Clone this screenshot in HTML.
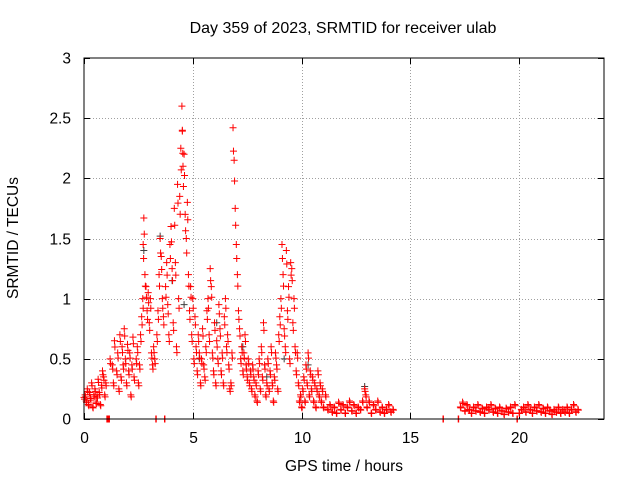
<!DOCTYPE html>
<html>
<head>
<meta charset="utf-8">
<style>
html,body{margin:0;padding:0;background:#fff;}
svg{display:block;font-family:"Liberation Sans",sans-serif;}
</style>
</head>
<body>
<svg id="chart" width="640" height="480" viewBox="0 0 640 480">
<rect x="0" y="0" width="640" height="480" fill="#fff"/>
<text x="343" y="33" text-anchor="middle" font-size="16" fill="#000">Day 359 of 2023, SRMTID for receiver ulab</text>
<text x="344" y="471" text-anchor="middle" font-size="15.5" fill="#000">GPS time / hours</text>
<text x="0" y="0" transform="translate(18,238) rotate(-90)" text-anchor="middle" font-size="15.5" fill="#000">SRMTID / TECUs</text>
<g id="grid"></g>
<g id="ticks"></g>
<g id="marks"></g>
<rect x="84" y="58" width="520" height="361" fill="none" stroke="#000" stroke-width="1"/>
</svg>
<script>
const xTicks = [0, 5, 10, 15, 20];
const xTickLabels = ["0", "5", "10", "15", "20"];
const yTicks = [0, 0.5, 1, 1.5, 2, 2.5, 3];
const yTickLabels = ["0", "0.5", "1", "1.5", "2", "2.5", "3"];
const redTimes = [0.0,0.05,0.1,0.15,0.2,0.25,0.3,0.35,0.4,0.45,0.5,0.55,0.6,0.65,0.7,0.75,0.8,0.85,0.9,0.95,1.0,1.05,1.1,1.15,1.2,1.3,1.35,1.4,1.5,1.55,1.6,1.65,1.7,1.75,1.8,1.85,1.9,1.95,2.0,2.05,2.1,2.15,2.2,2.25,2.3,2.4,2.45,2.5,2.55,2.6,2.65,2.7,2.72,2.75,2.8,2.85,2.9,2.95,3.0,3.05,3.1,3.15,3.2,3.25,3.3,3.35,3.4,3.45,3.5,3.55,3.6,3.65,3.7,3.75,3.8,3.85,3.9,3.95,4.0,4.05,4.1,4.15,4.2,4.25,4.3,4.35,4.4,4.45,4.5,4.52,4.55,4.6,4.65,4.7,4.75,4.8,4.85,4.9,4.95,5.0,5.05,5.1,5.15,5.2,5.25,5.3,5.35,5.4,5.45,5.5,5.55,5.6,5.65,5.7,5.75,5.8,5.85,5.9,5.95,6.0,6.05,6.1,6.15,6.2,6.25,6.3,6.35,6.4,6.45,6.5,6.55,6.6,6.65,6.7,6.75,6.8,6.85,6.9,6.95,7.0,7.05,7.1,7.15,7.2,7.25,7.3,7.35,7.4,7.45,7.5,7.55,7.6,7.65,7.7,7.75,7.8,7.85,7.9,7.95,8.0,8.05,8.1,8.15,8.2,8.25,8.3,8.35,8.4,8.45,8.5,8.55,8.6,8.65,8.7,8.75,8.8,8.85,8.9,8.95,9.0,9.05,9.1,9.15,9.2,9.25,9.3,9.35,9.4,9.45,9.5,9.55,9.6,9.65,9.7,9.75,9.8,9.85,9.9,9.95,10.0,10.05,10.1,10.15,10.2,10.25,10.3,10.35,10.4,10.45,10.5,10.55,10.6,10.65,10.7,10.75,10.8,10.85,10.9,10.95,11.0,11.1,11.2,11.3,11.4,11.5,11.6,11.7,11.8,11.9,12.0,12.1,12.2,12.3,12.4,12.5,12.6,12.7,12.8,12.9,12.95,13.0,13.1,13.2,13.3,13.4,13.5,13.6,13.7,13.8,13.9,14.0,14.1,14.2,16.5,17.2,17.3,17.4,17.5,17.6,17.7,17.8,17.9,18.0,18.1,18.2,18.3,18.4,18.5,18.6,18.7,18.8,18.9,19.0,19.1,19.2,19.3,19.4,19.5,19.6,19.7,19.8,19.9,20.0,20.1,20.2,20.3,20.4,20.5,20.6,20.7,20.8,20.9,21.0,21.1,21.2,21.3,21.4,21.5,21.6,21.7,21.8,21.9,22.0,22.1,22.2,22.3,22.4,22.5,22.6,22.7];
const redValues = [0.18,0.2,0.15,0.25,0.12,0.22,0.17,0.3,0.1,0.2,0.25,0.14,0.19,0.33,0.22,0.12,0.28,0.4,0.35,0.2,0.3,0,0,0,0.5,0.45,0.3,0.65,0.4,0.55,0.25,0.7,0.35,0.6,0.45,0.75,0.5,0.3,0.62,0.4,0.55,0.2,0.45,0.68,0.35,0.5,0.6,0.3,0.45,0.7,0.85,1.0,1.45,1.67,1.2,1.1,0.9,1.05,0.8,1.0,0.55,0.45,0.6,0.5,0,0.7,0.9,1.2,1.5,1.35,1.0,0.85,0,1.1,1.3,0.95,0.7,1.45,1.6,1.25,0.8,1.75,1.3,0.6,1.95,1.0,1.85,2.25,2.6,2.4,2.1,2.2,1.7,1.5,1.8,1.2,0.9,1.1,0.7,1.0,0.5,0.85,0.6,0.4,0.7,0.55,0.3,0.5,0.75,0.45,0.35,0.6,0.9,1.0,0.7,1.25,1.1,0.55,0.4,0.8,0.3,0.65,0.5,0.95,0.75,0.4,0.55,0.3,0.85,1.0,0.6,0.7,0.45,0.25,0.3,0.55,2.42,2.15,1.75,1.45,1.2,0.9,0.75,0.5,0.6,0.4,0.55,0.7,0.45,0.35,0.5,0.3,0.4,0.25,0.45,0.35,0.2,0.3,0.15,0.4,0.5,0.25,0.6,0.35,0.8,0.45,0.2,0.3,0.5,0.25,0.4,0.6,0.3,0.15,0.35,0.55,0.45,0.25,0.7,0.85,1.0,1.45,1.2,0.75,0.6,1.4,0.9,1.1,0.5,1.3,1.25,0.8,1.0,0.6,0.4,0.55,0.3,0.15,0.2,0.1,0.25,0.35,0.15,0.45,0.3,0.55,0.2,0.4,0.25,0.35,0.15,0.3,0.1,0.25,0.4,0.2,0.3,0.15,0.25,0.1,0.2,0.08,0.12,0.06,0.1,0.05,0.14,0.08,0.12,0.05,0.1,0.15,0.07,0.12,0.05,0.1,0.08,0.15,0.25,0.2,0.1,0.15,0.05,0.12,0.08,0.15,0.06,0.1,0.05,0.08,0.12,0.06,0.08,0,0,0.1,0.14,0.07,0.12,0.08,0.05,0.1,0.07,0.12,0.06,0.09,0.05,0.1,0.08,0.12,0.06,0.09,0.05,0.1,0.07,0.04,0.09,0.06,0.1,0.05,0.12,0,0.05,0.08,0.1,0.06,0.12,0.08,0.05,0.1,0.07,0.12,0.06,0.09,0.05,0.1,0.07,0.04,0.08,0.06,0.1,0.05,0.08,0.06,0.1,0.05,0.08,0.12,0.06,0.08];
const greyTimes = [2.75,3.5,4.05,4.6,5.3,6.1,7.3,8.4,9.2,10.3,12.9];
const greyValues = [1.4,1.52,1.15,0.95,0.5,0.8,0.6,0.35,0.5,0.45,0.27];

const X0 = 84, X1 = 604, Y0 = 419, Y1 = 58;
const xMax = 23.9, yMax = 3;
function xs(t){ return X0 + t / xMax * (X1 - X0); }
function ys(v){ return Y0 - v / yMax * (Y0 - Y1); }
const NS = "http://www.w3.org/2000/svg";
const grid = document.getElementById('grid');
const ticks = document.getElementById('ticks');
const marks = document.getElementById('marks');

function line(parent, x1, y1, x2, y2, stroke, dash){
  const l = document.createElementNS(NS, 'line');
  l.setAttribute('x1', x1); l.setAttribute('y1', y1);
  l.setAttribute('x2', x2); l.setAttribute('y2', y2);
  l.setAttribute('stroke', stroke); l.setAttribute('stroke-width', 1);
  if (dash) l.setAttribute('stroke-dasharray', dash);
  parent.appendChild(l);
  return l;
}

xTicks.forEach((t, i) => {
  const x = Math.round(xs(t)) + 0.5;
  if (t > 0) {
    const g = line(grid, x, Y1, x, Y0, '#a0a0a0', '1,2');
    
    
  }
  line(ticks, x, Y0, x, Y0 - 6, '#000');
  line(ticks, x, Y1, x, Y1 + 6, '#000');
  const tx = document.createElementNS(NS, 'text');
  tx.setAttribute('x', x); tx.setAttribute('y', 443);
  tx.setAttribute('text-anchor', 'middle'); tx.setAttribute('font-size', 15.5);
  tx.textContent = xTickLabels[i];
  
  
  ticks.appendChild(tx);
});
yTicks.forEach((v, i) => {
  const y = Math.round(ys(v)) + 0.5;
  if (v > 0 && v < yMax) {
    const g = line(grid, X0, y, X1, y, '#a0a0a0', '1,2');
    
    
  }
  line(ticks, X0, y, X0 + 6, y, '#000');
  line(ticks, X1, y, X1 - 6, y, '#000');
  const tx = document.createElementNS(NS, 'text');
  tx.setAttribute('x', 71); tx.setAttribute('y', y + 5);
  tx.setAttribute('text-anchor', 'end'); tx.setAttribute('font-size', 15.5);
  tx.textContent = yTickLabels[i];
  
  
  ticks.appendChild(tx);
});

function plus(t, v, color, name){
  const x = xs(t), y = ys(v);
  const p = document.createElementNS(NS, 'path');
  p.setAttribute('d', `M${x-3.5},${y}H${x+3.5}M${x},${y-3.5}V${y+3.5}`);
  p.setAttribute('stroke', color);
  p.setAttribute('stroke-width', 1);
  p.setAttribute('fill', 'none');
  
  
  marks.appendChild(p);
}
greyTimes.forEach((t, i) => plus(t, greyValues[i], '#404040', 'grey-point'));
redTimes.forEach((t, i) => {
  plus(t, redValues[i], '#ff0000', 'red-point');
  plus(t + 0.02, redValues[i] * 0.92, '#ff0000', 'red-point');
});
</script>
</body>
</html>
